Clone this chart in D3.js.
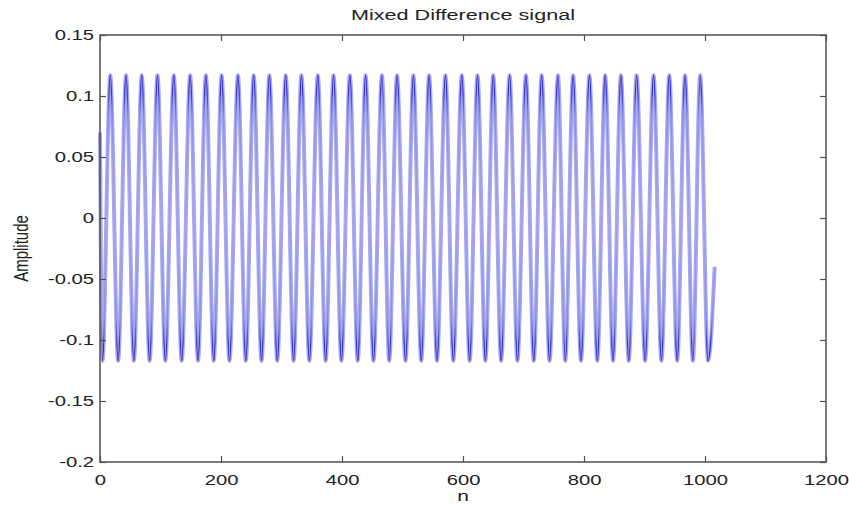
<!DOCTYPE html>
<html>
<head>
<meta charset="utf-8">
<script src="https://cdn.jsdelivr.net/npm/d3@7"></script>
<style>
  html, body { margin: 0; padding: 0; background: #fff; }
  svg { display: block; }
  text { font-family: "Liberation Sans", Arial, sans-serif; fill: #222; }
</style>
</head>
<body>
<svg id="chart" width="849" height="506"></svg>
<script>
// Sample index of each local maximum of the signal
const peakN = [17, 43, 69, 95, 122, 149, 175, 201, 228, 254, 280, 307, 333, 360, 386,
  413, 439, 466, 491, 518, 544, 571, 598, 624, 650, 677, 704, 730, 757, 782,
  809, 835, 861, 887, 915, 941, 967, 992];
// Sample index of each local minimum
const troughN = [4, 30, 56, 82, 108, 135, 162, 188, 214, 241, 267, 293, 320, 346, 373,
  399, 426, 452, 478, 505, 531, 557, 584, 611, 637, 663, 690, 717, 743, 769,
  795, 822, 848, 874, 901, 928, 954, 980, 1005];
const peakLevel = 0.117;
const troughLevel = -0.117;
const firstSample = [0, 0.07];
const lastSample = [1016, -0.04];

const xTicks = [0, 200, 400, 600, 800, 1000, 1200];
const yTicks = [-0.2, -0.15, -0.1, -0.05, 0, 0.05, 0.1, 0.15];
const titleText = "Mixed Difference signal";
const xLabel = "n";
const yLabel = "Amplitude";

// Build the ordered list of points: start, alternating extrema, end
const points = [firstSample]
  .concat(peakN.map(n => [n, peakLevel]))
  .concat(troughN.map(n => [n, troughLevel]))
  .sort((a, b) => a[0] - b[0]);
points.push(lastSample);

const svg = d3.select("#chart");
const plotLeft = 100, plotRight = 826, plotTop = 35, plotBottom = 462;
const stretch = 1.4;      // labels are drawn wider than tall
const tickStretch = 1.35;

const x = d3.scaleLinear().domain([0, 1200]).range([plotLeft, plotRight]);
const y = d3.scaleLinear().domain([-0.2, 0.15]).range([plotBottom, plotTop]);

// Core of the trace is darkest where it turns at the extremes
const grad = svg.append("defs").append("linearGradient")
  .attr("id", "coreShade")
  .attr("gradientUnits", "userSpaceOnUse")
  .attr("x1", 0).attr("x2", 0)
  .attr("y1", y(peakLevel) - 3).attr("y2", y(troughLevel) + 3);
[
  [0.00, "#2a2ac4", 1], [0.07, "#2a2ac4", 0.95], [0.16, "#5a5ad8", 0.35],
  [0.5, "#8080e4", 0.15],
  [0.84, "#5a5ad8", 0.35], [0.93, "#2a2ac4", 0.95], [1.00, "#2a2ac4", 1]
].forEach(([o, c, a]) => grad.append("stop")
  .attr("offset", o).attr("stop-color", c).attr("stop-opacity", a));

const line = d3.line()
  .x(d => x(d[0]))
  .y(d => y(d[1]))
  .curve(d3.curveMonotoneX);

svg.append("path")
  .datum(points)
  .attr("d", line)
  .attr("fill", "none")
  .attr("stroke", "#a8a8f2")
  .attr("stroke-width", 4)
  .attr("stroke-linejoin", "round");

svg.append("path")
  .datum(points)
  .attr("d", line)
  .attr("fill", "none")
  .attr("stroke", "url(#coreShade)")
  .attr("stroke-width", 1.4);

// Axes: ticks point inward on all four sides
const axisColor = "#505050";
const tickLen = 6;

function styleAxis(g) {
  g.select(".domain").remove();
  g.selectAll(".tick line").attr("stroke", axisColor).attr("stroke-width", 1.2);
}

const gBottom = svg.append("g")
  .attr("transform", `translate(0,${plotBottom})`)
  .call(d3.axisBottom(x).tickValues(xTicks).tickSizeInner(-tickLen).tickSizeOuter(0)
    .tickPadding(12).tickFormat(d3.format("d")));
styleAxis(gBottom);

const gTop = svg.append("g")
  .attr("transform", `translate(0,${plotTop})`)
  .call(d3.axisTop(x).tickValues(xTicks).tickSizeInner(-tickLen).tickSizeOuter(0).tickFormat(""));
styleAxis(gTop);

const gLeft = svg.append("g")
  .attr("transform", `translate(${plotLeft},0)`)
  .call(d3.axisLeft(y).tickValues(yTicks).tickSizeInner(-tickLen).tickSizeOuter(0)
    .tickPadding(6).tickFormat(d => d === 0 ? "0" : String(+d.toFixed(2))));
styleAxis(gLeft);

const gRight = svg.append("g")
  .attr("transform", `translate(${plotRight},0)`)
  .call(d3.axisRight(y).tickValues(yTicks).tickSizeInner(-tickLen).tickSizeOuter(0).tickFormat(""));
styleAxis(gRight);

// Tick label typography, widened horizontally
svg.selectAll(".tick text")
  .attr("font-size", 15)
  .attr("font-family", "'Liberation Sans', Arial, sans-serif")
  .attr("fill", "#222")
  .each(function() {
    const t = d3.select(this);
    const tx = +t.attr("x") || 0;
    t.attr("x", tx / tickStretch).attr("transform", `scale(${tickStretch},1)`);
  });

// Plot box
svg.append("rect")
  .attr("x", plotLeft).attr("y", plotTop)
  .attr("width", plotRight - plotLeft).attr("height", plotBottom - plotTop)
  .attr("fill", "none")
  .attr("stroke", axisColor)
  .attr("stroke-width", 1.5);

// Title and axis labels
svg.append("text")
  .attr("transform", `translate(${(plotLeft + plotRight) / 2},20) scale(1.44,1)`)
  .attr("text-anchor", "middle")
  .attr("font-size", 15)
  .text(titleText);

svg.append("text")
  .attr("transform", `translate(${(plotLeft + plotRight) / 2},501) scale(${stretch},1)`)
  .attr("text-anchor", "middle")
  .attr("font-size", 15)
  .text(xLabel);

svg.append("text")
  .attr("transform", `translate(28,${(plotTop + plotBottom) / 2}) scale(${stretch},1) rotate(-90)`)
  .attr("text-anchor", "middle")
  .attr("font-size", 15)
  .text(yLabel);
</script>
</body>
</html>
